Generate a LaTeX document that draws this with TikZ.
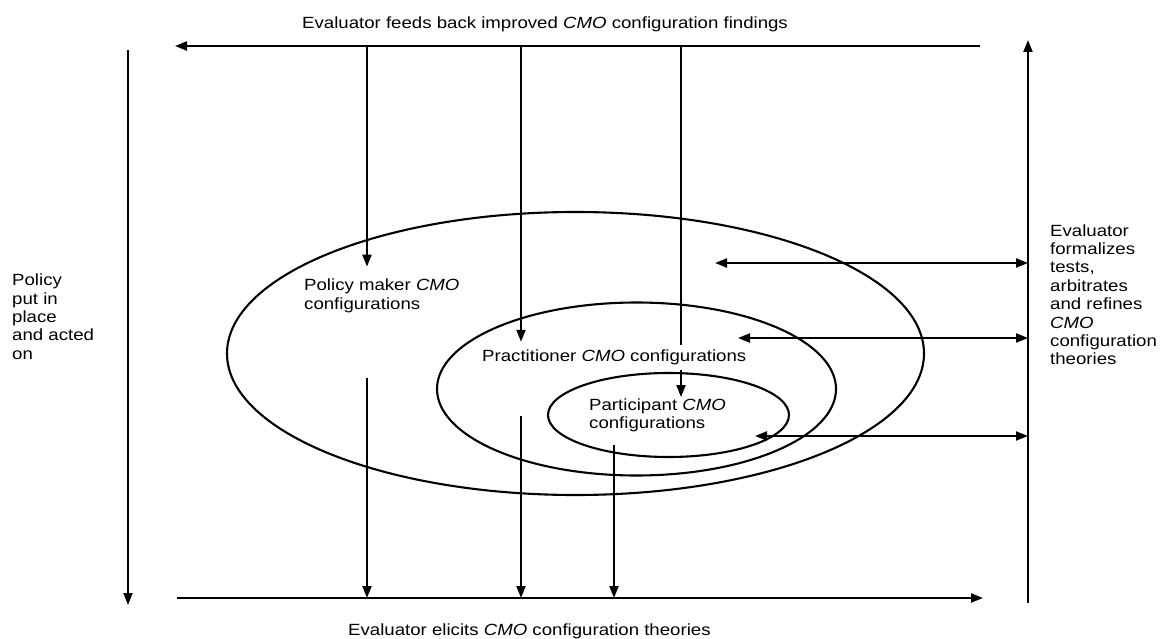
\documentclass[tikz,border=0pt]{standalone}
\usepackage{fontspec}
\setmainfont{Liberation Sans}[FakeStretch=1.15]
\usetikzlibrary{arrows.meta}
\begin{document}
\begin{tikzpicture}[x=1pt,y=-1pt,
  ln/.style={line width=2.1pt},
  tip/.tip={Triangle[length=12pt,width=9pt]},
  arr/.style={ln,-tip},
  darr/.style={ln,tip-tip},
  txt/.style={inner sep=0pt,align=left,font=\fontsize{16.2pt}{18.4pt}\selectfont},
  ring/.style={line width=2.1pt}
]
\useasboundingbox (0,0) rectangle (1162,639);

% nested configuration ellipses
\draw[ring] (575.5,353.5) ellipse [x radius=348.5pt, y radius=141.5pt];
\draw[ring] (636.5,389) ellipse [x radius=199.5pt, y radius=86.5pt];
\draw[ring] (668.5,415) ellipse [x radius=120.5pt, y radius=42pt];

% labels (multi-line nodes are placed by the baseline of their last line)
\node[txt,anchor=base west] (top) at (302,28.5)
  {Evaluator feeds back improved \textit{CMO} configuration findings};
\node[txt,anchor=base west] (bot) at (348,635)
  {Evaluator elicits \textit{CMO} configuration theories};
\node[txt,anchor=base west] (pm) at (304,309)
  {Policy maker \textit{CMO}\\configurations};
\node[txt,anchor=base west] (prac) at (482,361.7)
  {Practitioner \textit{CMO} configurations};
\node[txt,anchor=base west] (part) at (589,428.4)
  {Participant \textit{CMO}\\configurations};
\node[txt,anchor=base west] (left) at (12,359.3)
  {Policy\\put in\\place\\and acted\\on};
\node[txt,anchor=base west] (right) at (1050,364.8)
  {Evaluator\\formalizes\\tests,\\arbitrates\\and refines\\\textit{CMO}\\configuration\\theories};

% frame lines
\coordinate (topR) at (980,46);
\coordinate (topL) at (175,46);
\coordinate (botL) at (177,598);
\coordinate (botR) at (983,598);
\coordinate (lvT) at (128,50);
\coordinate (lvB) at (128,605);
\coordinate (rvB) at (1028,603);
\coordinate (rvT) at (1028,40);
\draw[arr] (topR) -- (topL);
\draw[arr] (botL) -- (botR);
\draw[arr] (lvT) -- (lvB);
\draw[arr] (rvB) -- (rvT);

% feedback arrows from the top line
\coordinate (d1) at (367,46);
\coordinate (d2) at (521,46);
\coordinate (d3) at (681,46);
\draw[arr,shorten >=12pt] (d1) -- (d1 |- pm.north);
\draw[arr,shorten >=8pt] (d2) -- (d2 |- prac.north);
\draw[ln,shorten >=5pt] (d3) -- (d3 |- prac.north);
\draw[arr,shorten <=5pt,shorten >=1pt] (d3 |- prac.south) -- (d3 |- part.north);

% elicitation arrows to the bottom line
\coordinate (u1) at (367,378);
\coordinate (u2) at (521,416);
\coordinate (u3) at (614,445);
\draw[arr] (u1) -- (u1 |- botL);
\draw[arr] (u2) -- (u2 |- botL);
\draw[arr] (u3) -- (u3 |- botL);

% formalizing arrows to the right line
\coordinate (l1) at (715,263);
\coordinate (l2) at (738,338);
\coordinate (l3) at (755,436);
\draw[darr] (l1) -- (l1 -| rvT);
\draw[darr] (l2) -- (l2 -| rvT);
\draw[darr] (l3) -- (l3 -| rvT);
\end{tikzpicture}
\end{document}
